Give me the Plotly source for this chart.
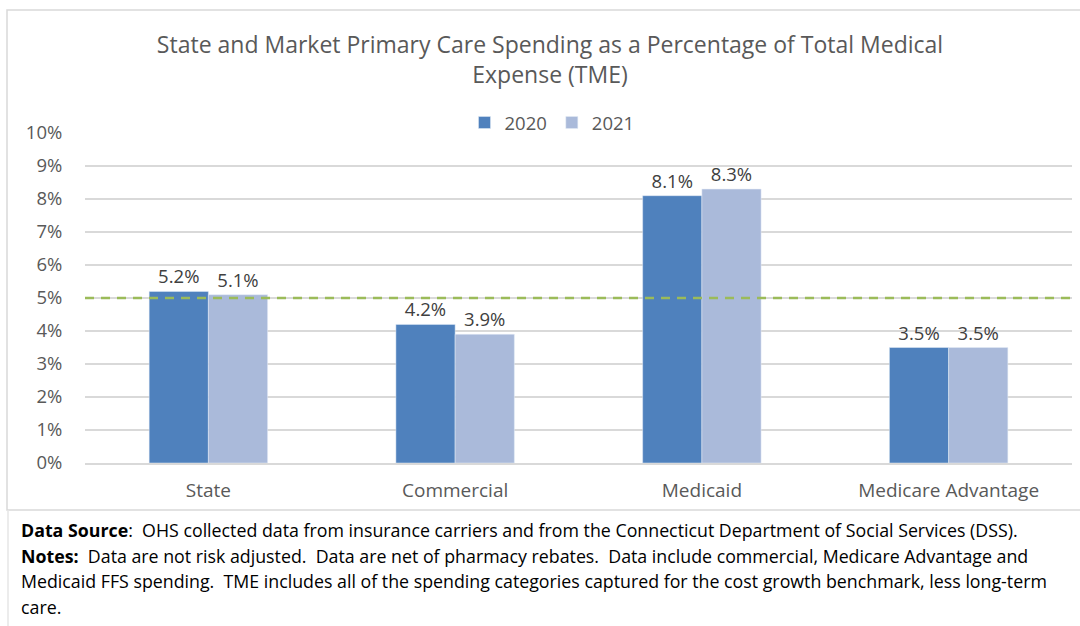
import plotly.graph_objects as go

categories = ['State', 'Commercial', 'Medicaid', 'Medicare Advantage']
spend_2020 = [5.2, 4.2, 8.1, 3.5]
spend_2021 = [5.1, 3.9, 8.3, 3.5]
benchmark = 5.0
y_ticks = [0, 1, 2, 3, 4, 5, 6, 7, 8, 9, 10]
y_labels = ['%d%%' % v for v in y_ticks]

W, H = 1080, 626
L, R, T, B = 85, 1072, 133, 463  # plot area in pixels


def px_x(p):
    return (p - L) / (R - L)


def px_y(p):
    return (B - p) / (B - T)


font = 'Open Sans'
grey = '#595959'

fig = go.Figure()
fig.add_trace(go.Bar(x=categories, y=spend_2020, name='2020', marker_color='#4F81BD',
                     texttemplate='%{y:.1f}%', textposition='outside',
                     textfont=dict(size=18.5, color='#404040'), cliponaxis=False))
fig.add_trace(go.Bar(x=categories, y=spend_2021, name='2021', marker_color='#AABADA',
                     texttemplate='%{y:.1f}%', textposition='outside',
                     textfont=dict(size=18.5, color='#404040'), cliponaxis=False))

# 5% benchmark line
fig.add_shape(type='line', xref='paper', yref='y', x0=0, x1=1, y0=benchmark, y1=benchmark,
              line=dict(color='#9BBB59', width=2.5, dash='9px,7px'))

# chart border
fig.add_shape(type='rect', xref='paper', yref='paper', x0=px_x(7), x1=px_x(1090),
              y0=px_y(510), y1=px_y(10), line=dict(color='#D9D9D9', width=1.5), layer='below')
fig.add_shape(type='line', xref='paper', yref='paper', x0=px_x(8), x1=px_x(8),
              y0=px_y(626), y1=px_y(510), line=dict(color='#E6E6E6', width=1.5))

notes = [
    '<b>Data Source</b>:  OHS collected data from insurance carriers and from the Connecticut Department of Social Services (DSS).',
    '<b>Notes:</b>  Data are not risk adjusted.  Data are net of pharmacy rebates.  Data include commercial, Medicare Advantage and',
    'Medicaid FFS spending.  TME includes all of the spending categories captured for the cost growth benchmark, less long-term',
    'care.',
]
for i, line in enumerate(notes):
    fig.add_annotation(text=line, xref='paper', yref='paper', x=px_x(19), y=px_y(530 + i * 25.5),
                       xanchor='left', yanchor='middle', showarrow=False, align='left',
                       font=dict(size=17.8, color='#000000', family=font))

fig.update_layout(
    width=W, height=H,
    margin=dict(l=L, r=W - R, t=T, b=H - B),
    paper_bgcolor='white', plot_bgcolor='white',
    font=dict(family=font, color=grey, size=18),
    title=dict(text='State and Market Primary Care Spending as a Percentage of Total Medical<br>Expense (TME)',
               x=px_x(550), xref='paper', xanchor='center', y=1 - 53 / H, yanchor='middle',
               font=dict(size=23, color=grey, family=font)),
    barmode='group', bargap=0.52, bargroupgap=0,
    showlegend=True,
    legend=dict(orientation='h', x=px_x(552), xanchor='center', y=px_y(123), yanchor='middle',
                font=dict(size=18.5, color=grey), traceorder='normal', itemwidth=30),
    xaxis=dict(showgrid=False, showline=True, linecolor='#D9D9D9', linewidth=1.5,
               ticks='outside', ticklen=9, tickcolor='rgba(0,0,0,0)',
               tickfont=dict(size=19, color=grey)),
    yaxis=dict(range=[0, 10], tickvals=y_ticks, ticktext=y_labels, showgrid=True,
               gridcolor='#D9D9D9', gridwidth=1.5, zeroline=False, showline=False,
               ticks='outside', ticklen=18, tickcolor='rgba(0,0,0,0)',
               tickfont=dict(size=18.5, color=grey)),
)

fig.write_html('out.html', config={'displayModeBar': False},
               post_script="document.body.style.margin='0';")
